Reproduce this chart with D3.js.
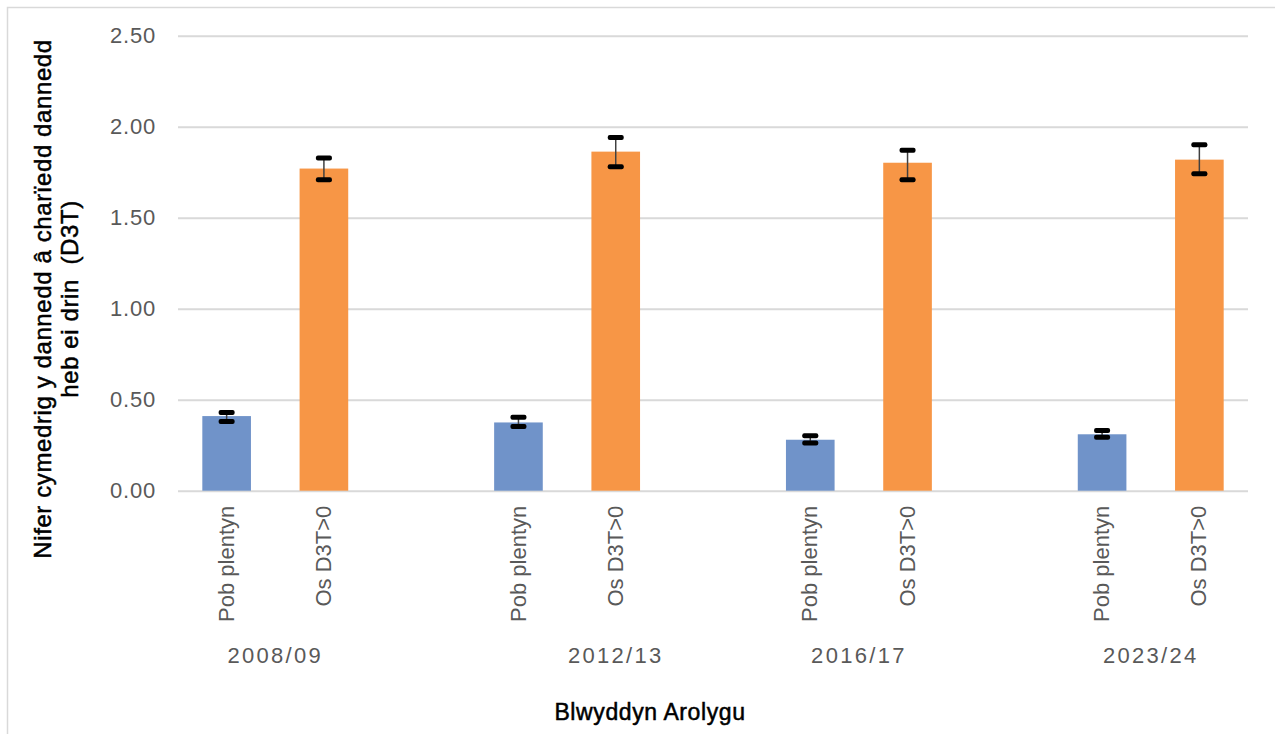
<!DOCTYPE html>
<html>
<head>
<meta charset="utf-8">
<script src="https://cdn.jsdelivr.net/npm/d3@7"></script>
<style>
  body { margin: 0; background: #fff; }
  text { font-family: "Liberation Sans", Arial, sans-serif; }
</style>
</head>
<body>
<div id="chart"></div>
<script>
// survey years and the two groups shown in each year
var years = ["2008/09", "2012/13", "2016/17", "2023/24"];
var groups = ["Pob plentyn", "Os D3T>0"];

// mean number of teeth with untreated decay (D3T), with error bar ends
var pobMean = [0.41, 0.375, 0.28, 0.31];
var pobLow  = [0.38, 0.353, 0.262, 0.293];
var pobHigh = [0.43, 0.403, 0.302, 0.331];

var osMean = [1.77, 1.863, 1.802, 1.819];
var osLow  = [1.709, 1.78, 1.709, 1.742];
var osHigh = [1.828, 1.94, 1.87, 1.901];

var yTicks = [0, 0.5, 1.0, 1.5, 2.0, 2.5];

var yTitleLines = ["Nifer cymedrig y dannedd â charïedd dannedd", "heb ei drin  (D3T)"];
var xTitle = "Blwyddyn Arolygu";

var colors = ["#7093c9", "#f79646"];

// set the dimensions of the page and plot area
var width = 1275,
    height = 734,
    margin = {top: 35.7, left: 178, right: 27, bottom: 243.3},
    plotW = width - margin.left - margin.right,
    plotH = height - margin.top - margin.bottom;

// flatten into bars, with an empty slot between years (like the excel sheet)
var bars = [], slots = [];
years.forEach(function(yr, i) {
  var means = [pobMean[i], osMean[i]],
      lows = [pobLow[i], osLow[i]],
      highs = [pobHigh[i], osHigh[i]];
  groups.forEach(function(g, j) {
    var key = yr + "|" + g;
    slots.push(key);
    bars.push({key: key, year: yr, group: g, j: j, value: means[j], low: lows[j], high: highs[j]});
  });
  if (i < years.length - 1) slots.push("gap" + i);
});

var x = d3.scaleBand()
    .domain(slots)
    .range([0, plotW])
    .paddingInner(0.5)
    .paddingOuter(0.25);

var y = d3.scaleLinear()
    .domain([0, 2.5])
    .range([plotH, 0]);

var svg = d3.select("#chart").append("svg")
    .attr("width", width)
    .attr("height", height);

// outer chart border (only top and left show in the frame)
svg.append("rect")
    .attr("x", 7.5)
    .attr("y", 7.5)
    .attr("width", width + 50)
    .attr("height", height + 50)
    .attr("fill", "none")
    .attr("stroke", "#d9d9d9")
    .attr("stroke-width", 1.5);

var g = svg.append("g")
    .attr("transform", "translate(" + margin.left + "," + margin.top + ")");

// gridlines and y labels
var yAxis = d3.axisLeft(y)
    .tickValues(yTicks)
    .tickSize(-plotW)
    .tickPadding(22)
    .tickFormat(d3.format(".2f"));

var yAxisG = g.append("g").call(yAxis);
yAxisG.select(".domain").remove();
yAxisG.selectAll(".tick line")
    .attr("stroke", "#d9d9d9")
    .attr("stroke-width", 2);
yAxisG.selectAll(".tick text")
    .attr("fill", "#595959")
    .style("font-size", "22px")
    .style("letter-spacing", "0.8px")
    .style("font-family", "'Liberation Sans', Arial, sans-serif");

// bars
g.selectAll(".bar")
    .data(bars)
  .enter().append("rect")
    .attr("class", "bar")
    .attr("x", function(d) { return x(d.key); })
    .attr("width", x.bandwidth())
    .attr("y", function(d) { return y(d.value); })
    .attr("height", function(d) { return plotH - y(d.value); })
    .attr("fill", function(d) { return colors[d.j]; });

// error bars
var err = g.selectAll(".err")
    .data(bars)
  .enter().append("g")
    .attr("class", "err")
    .attr("transform", function(d) { return "translate(" + (x(d.key) + x.bandwidth() / 2) + ",0)"; });

err.append("line")
    .attr("y1", function(d) { return y(d.high); })
    .attr("y2", function(d) { return y(d.low); })
    .attr("stroke", "#404040")
    .attr("stroke-width", 1.5);

err.selectAll(".cap")
    .data(function(d) { return [d.high, d.low]; })
  .enter().append("rect")
    .attr("class", "cap")
    .attr("x", -8)
    .attr("width", 16)
    .attr("y", function(v) { return y(v) - 2.5; })
    .attr("height", 5)
    .attr("rx", 2)
    .attr("fill", "#000");

// rotated group labels under each bar
g.selectAll(".cat")
    .data(bars)
  .enter().append("text")
    .attr("class", "cat")
    .attr("transform", function(d) {
      return "translate(" + (x(d.key) + x.bandwidth() / 2) + "," + (plotH + 15) + ") rotate(-90)";
    })
    .attr("text-anchor", "end")
    .attr("dy", "0.32em")
    .attr("fill", "#595959")
    .style("font-size", "22px")
    .text(function(d) { return d.group; });

// year labels (the 2012/13 one sits off-centre in the original)
var yearShift = [0, 0.5, 0, 0];
g.selectAll(".year")
    .data(years)
  .enter().append("text")
    .attr("class", "year")
    .attr("x", function(d, i) {
      var a = x(d + "|" + groups[0]) + x.bandwidth() / 2,
          b = x(d + "|" + groups[1]) + x.bandwidth() / 2;
      return (a + b) / 2 + yearShift[i] * x.step();
    })
    .attr("y", plotH + 172)
    .attr("text-anchor", "middle")
    .attr("fill", "#595959")
    .style("font-size", "22px")
    .style("letter-spacing", "2.3px")
    .text(function(d) { return d; });

// axis titles (thin stroke gives the medium weight of the original)
var yTitle = svg.append("text")
    .attr("transform", "translate(51,299) rotate(-90)")
    .attr("text-anchor", "middle")
    .attr("fill", "#000")
    .attr("stroke", "#000")
    .attr("stroke-width", 0.5)
    .style("font-size", "24px")
    .style("letter-spacing", "0.6px")
    .style("white-space", "pre");

yTitle.selectAll("tspan")
    .data(yTitleLines)
  .enter().append("tspan")
    .attr("x", 0)
    .attr("dy", function(d, i) { return i === 0 ? 0 : 27; })
    .text(function(d) { return d; });

svg.append("text")
    .attr("x", 650)
    .attr("y", 720)
    .attr("text-anchor", "middle")
    .attr("fill", "#000")
    .attr("stroke", "#000")
    .attr("stroke-width", 0.5)
    .style("font-size", "23px")
    .style("letter-spacing", "0.6px")
    .text(xTitle);
</script>
</body>
</html>
